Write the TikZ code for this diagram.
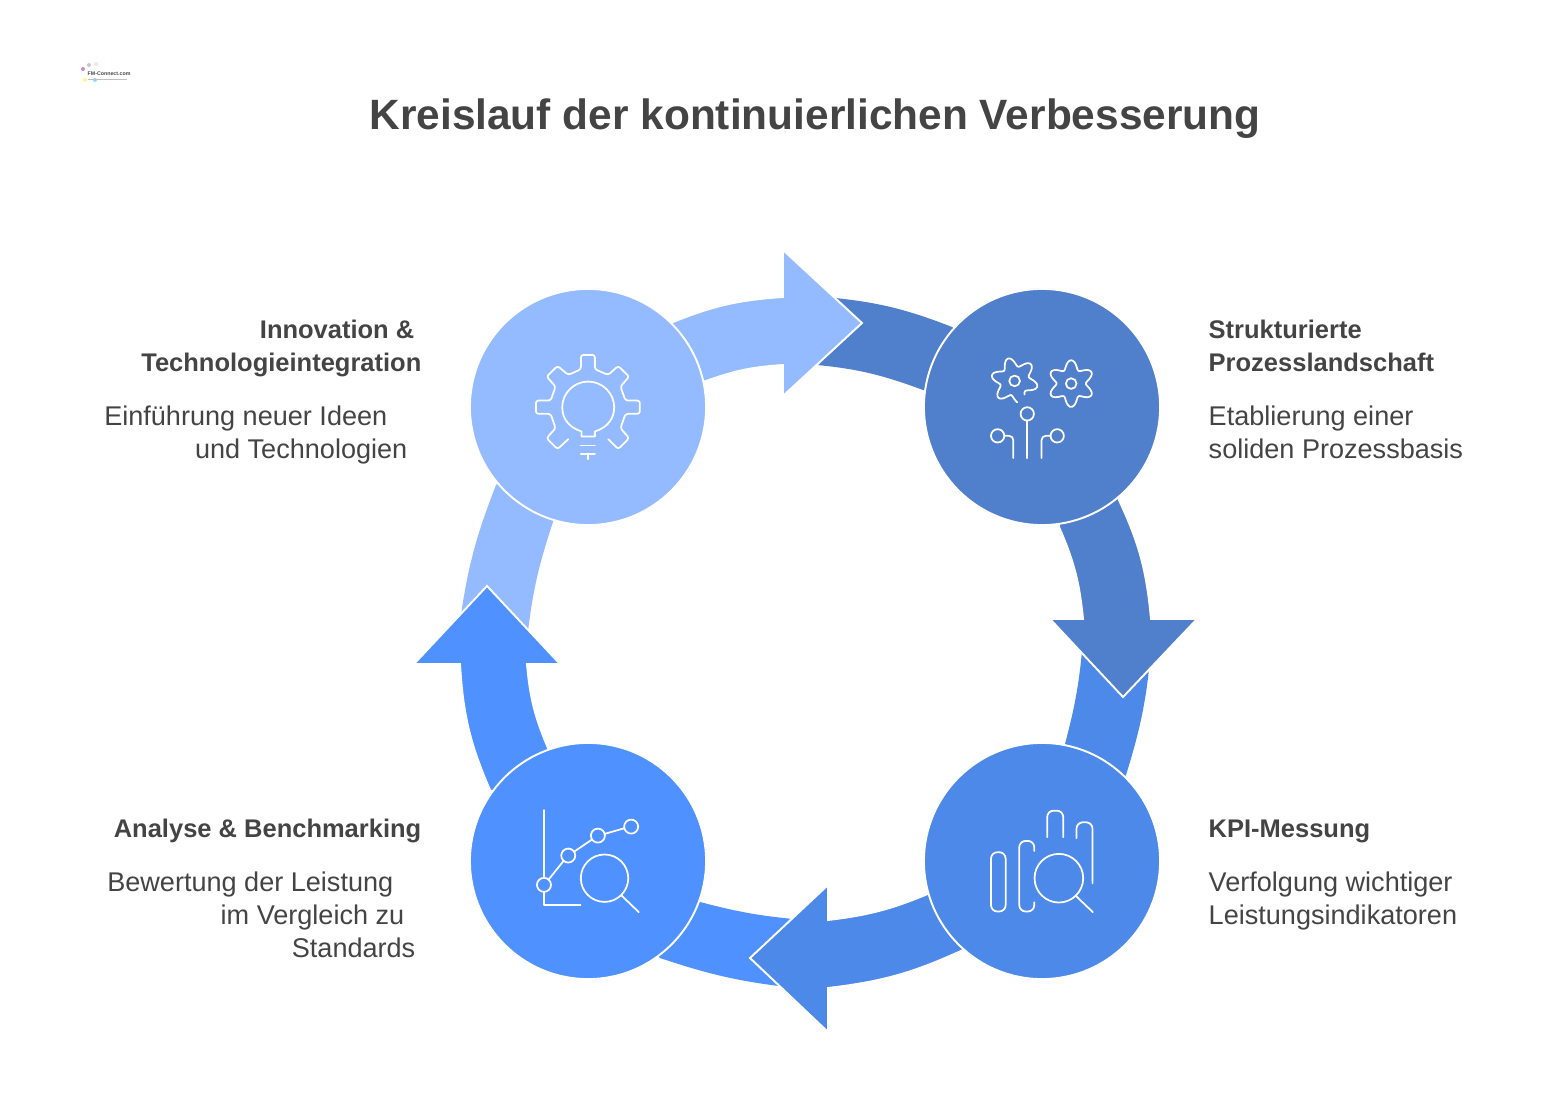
\documentclass[tikz,border=0pt]{standalone}
\usepackage{fontspec}
\setmainfont{Liberation Sans}
\definecolor{innoblue}{RGB}{148,187,255}
\definecolor{prozblue}{RGB}{80,127,203}
\definecolor{kpiblue}{RGB}{77,137,232}
\definecolor{anablue}{RGB}{78,145,255}
\definecolor{txtgray}{RGB}{68,68,68}
\tikzset{
  stage/.style={circle,draw=white,line width=.55pt,minimum size=2.36cm,inner sep=0pt},
  blockarrow/.style={draw=white,line width=.55pt,line join=miter},
  titletxt/.style={text=txtgray,font=\fontsize{12.06}{14}\selectfont\bfseries},
  headtxt/.style={text=txtgray,font=\fontsize{7.25}{9}\selectfont\bfseries,inner sep=0pt},
  bodytxt/.style={text=txtgray,font=\fontsize{7.7}{9}\selectfont,inner sep=0pt},
  iconline/.style={draw=white,line width=.5pt,line cap=round,line join=round},
}
\begin{document}
\begin{tikzpicture}[x=.01cm,y=-.01cm]
\useasboundingbox (0,0) rectangle (1558,1119);

% Draw the tails of the ring, each one runs under the head before it
\fill[prozblue] (825,297) to[bend left=8] (952,327) -- (1042,407) -- (923,390) to[bend right=8] (805,364) -- cycle;
\fill[kpiblue] (1151,650) to[bend left=6] (1126,775) -- (1042,861) -- (1065,744) to[bend right=5] (1083,640) -- cycle;
\fill[anablue] (795,988) to[bend left=6] (660,958) -- (588,861) -- (700,902) to[bend right=5] (805,920) -- cycle;
\fill[innoblue] (459,630) to[bend left=7] (496,485) -- (588,407) -- (553,522) to[bend right=6] (527,640) -- cycle;

% Draw the arrows between the stages
\filldraw[blockarrow,fill=innoblue] (673,322) to[bend left=9] (783,297) -- (783,250) -- (862,323) -- (783,396) -- (783,365) to[bend right=8] (706,381) -- (588,407) -- cycle;
\filldraw[blockarrow,fill=prozblue] (1118,498) to[bend left=10] (1151,619) -- (1197,619) -- (1123,697) -- (1050,619) -- (1083,619) to[bend right=9] (1059,527) -- (1042,407) -- cycle;
\filldraw[blockarrow,fill=kpiblue] (963,950) to[bend left=9] (828,988) -- (828,1032) -- (750,958) -- (828,885) -- (828,920) to[bend right=8] (930,893) -- (1042,861) -- cycle;
\filldraw[blockarrow,fill=anablue] (490,790) to[bend left=10] (460,664) -- (414,664) -- (487,586) -- (560,664) -- (527,664) to[bend right=9] (548,748) -- (588,861) -- cycle;

% Draw the four stages
\node[stage,fill=innoblue] (inno) at (588,407) {};
\node[stage,fill=prozblue] (proz) at (1042,407) {};
\node[stage,fill=kpiblue] (kpi) at (1042,861) {};
\node[stage,fill=anablue] (ana) at (588,861) {};

% Gear with bulb
\begin{scope}[shift={(510,330)},x=.00333cm,y=-.00333cm]
\draw[iconline,rounded corners=.7pt] (175,328) -- (143,358) -- (110,325) -- (137,295) -- (122,252) -- (78,252) -- (78,212) -- (122,212) -- (137,170) -- (110,140) -- (143,108) -- (175,135) -- (213,118) -- (213,75) -- (255,75) -- (255,118) -- (295,135) -- (325,108) -- (358,140) -- (332,170) -- (347,212) -- (390,212) -- (390,252) -- (347,252) -- (332,295) -- (358,325) -- (325,358) -- (295,328);
\draw[iconline] (215,305) .. controls (175,292) and (157,265) .. (157,232) .. controls (157,190) and (192,155) .. (235,155) .. controls (278,155) and (313,190) .. (313,232) .. controls (313,265) and (295,292) .. (255,305) -- (255,320) -- (215,320) -- cycle;
\draw[iconline] (213,347) -- (255,347);
\draw[iconline] (213,373) -- (255,373);
\draw[iconline] (234,373) -- (234,388);
\end{scope}

% Two gears and three pins
\begin{scope}[shift={(970,340)},x=.00333cm,y=-.00333cm]
\draw[iconline,smooth] plot[domain=-54:277,samples=120] ({134+(57+13*cos(6*(\x-106)))*cos(\x)},{123-(57+13*cos(6*(\x-106)))*sin(\x)});
\draw[iconline,smooth] plot[domain=0:360,samples=120] ({304+(57+13*cos(6*(\x-90)))*cos(\x)},{131-(57+13*cos(6*(\x-90)))*sin(\x)});
\foreach \x/\y/\r in {134/123/16,304/131/16,172/222/20,83/288/20,262/288/20} {
    \draw[iconline] (\x,\y) circle[radius=\r*.0333mm];
}
\draw[iconline] (172,242) -- (172,355);
\draw[iconline,rounded corners=1.2pt] (103,288) -- (130,288) -- (130,355);
\draw[iconline,rounded corners=1.2pt] (242,288) -- (215,288) -- (215,355);
\end{scope}

% Chart with magnifier
\begin{scope}[shift={(520,795)},x=.00333cm,y=-.00333cm]
\draw[iconline] (72,45) -- (72,249);
\draw[iconline] (72,291) -- (72,330) -- (182,330);
\foreach \x/\y in {72/270,145/182,234/122,334/95} {
    \draw[iconline] (\x,\y) circle (.7mm);
}
\draw[iconline] (86,254) -- (131,198);
\draw[iconline] (163,170) -- (216,134);
\draw[iconline] (254,117) -- (313,100);
\draw[iconline] (254,250) circle (2.37mm);
\draw[iconline] (305,302) -- (357,352);
\end{scope}

% Bars with magnifier
\begin{scope}[shift={(975,795)},x=.00333cm,y=-.00333cm]
\draw[iconline,rounded corners=1.8pt] (48,172) rectangle (92,350);
\draw[iconline,rounded corners=1.8pt] (178,168) -- (178,138) -- (133,138) -- (133,350) -- (178,350) -- (178,322);
\draw[iconline,rounded corners=1.8pt] (217,127) -- (217,47) -- (265,47) -- (265,127);
\draw[iconline,rounded corners=1.8pt] (305,130) -- (305,82) -- (353,82) -- (353,265);
\draw[iconline] (252,250) circle (2.43mm);
\draw[iconline] (305,305) -- (354,352);
\end{scope}

% Logo
\foreach \x/\y/\c in {83/69/violet,96/64/pink,89/65/gray,85/80/yellow,95/80/cyan} {
    \fill[\c,opacity=.45] (\x,\y) circle (.2mm);
}
\node[text=txtgray,inner sep=0pt,anchor=base west,font=\fontsize{1.5}{2}\selectfont\bfseries] (logo) at (87,76) {FM-Connect.com};
\draw[gray!50,line width=.25pt] (88,79) -- (127,79);

% Title
\node[titletxt,anchor=base] (title) at (815,130) {Kreislauf der kontinuierlichen Verbesserung};

% Labels on the left
\node[headtxt,anchor=base east] (innoA) at (415,339) {Innovation \&};
\node[headtxt,anchor=base east] (innoB) at (422,372) {Technologieintegration};
\node[bodytxt,anchor=base east] (innoC) at (388,426) {Einführung neuer Ideen};
\node[bodytxt,anchor=base east] (innoD) at (408,459) {und Technologien};
\node[headtxt,anchor=base east] (anaA) at (422,837) {Analyse \& Benchmarking};
\node[bodytxt,anchor=base east] (anaB) at (394,891) {Bewertung der Leistung};
\node[bodytxt,anchor=base east] (anaC) at (405,924) {im Vergleich zu};
\node[bodytxt,anchor=base east] (anaD) at (416,957) {Standards};

% Labels on the right
\node[headtxt,anchor=base west] (prozA) at (1208,339) {Strukturierte};
\node[headtxt,anchor=base west] (prozB) at (1208,372) {Prozesslandschaft};
\node[bodytxt,anchor=base west] (prozC) at (1208,426) {Etablierung einer};
\node[bodytxt,anchor=base west] (prozD) at (1208,459) {soliden Prozessbasis};
\node[headtxt,anchor=base west] (kpiA) at (1208,837) {KPI-Messung};
\node[bodytxt,anchor=base west] (kpiB) at (1208,891) {Verfolgung wichtiger};
\node[bodytxt,anchor=base west] (kpiC) at (1208,924) {Leistungsindikatoren};

\end{tikzpicture}
\end{document}
